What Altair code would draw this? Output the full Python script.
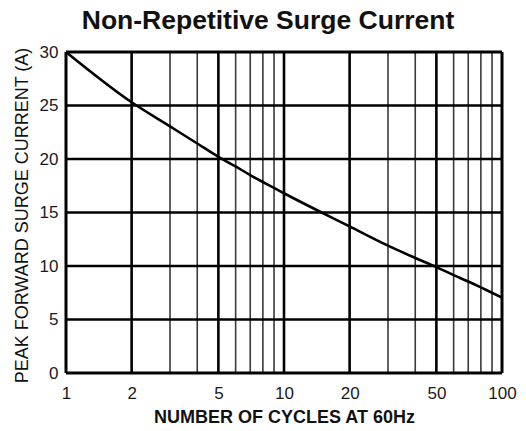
import altair as alt
import pandas as pd

chart_title = "Non-Repetitive Surge Current"
x_title = "NUMBER OF CYCLES AT 60Hz"
y_title = "PEAK FORWARD SURGE CURRENT (A)"

cycles = [1, 2, 3, 4, 5, 6, 7, 8, 9, 10, 20, 30, 40, 50, 60, 70, 80, 90, 100]
current = [30.0, 25.3, 23.05, 21.45, 20.2, 19.3, 18.5, 17.85, 17.3, 16.8,
           13.7, 11.9, 10.75, 9.9, 9.15, 8.55, 8.0, 7.5, 7.05]

x_ticks = [1, 2, 5, 10, 20, 50, 100]
y_ticks = [0, 5, 10, 15, 20, 25, 30]
x_major_grid = [2, 5, 10, 20, 50]
x_minor_grid = [3, 4, 6, 7, 8, 9, 30, 40, 60, 70, 80, 90]
y_grid = [5, 10, 15, 20, 25]
x_frame = [1, 100]
y_frame = [0, 30]

FONT = "Liberation Sans"

xscale = alt.Scale(type="log", domain=[1, 100], nice=False)
yscale = alt.Scale(domain=[0, 30], nice=False, zero=True)

xaxis = alt.Axis(
    values=x_ticks, format="d", grid=False, ticks=False, domain=False,
    labelFont=FONT, labelFontSize=17, labelColor="#1a1a1a", labelPadding=12,
    labelFlush=False, labelOverlap=False,
    title=x_title, titleFont=FONT, titleFontSize=18, titleFontWeight="bold",
    titleColor="#111111", titleX=218, titleY=49, titleBaseline="alphabetic",
    titleAlign="center",
)
yaxis = alt.Axis(
    values=y_ticks, grid=False, ticks=False, domain=False,
    labelFont=FONT, labelFontSize=17, labelColor="#1a1a1a", labelPadding=8,
    title=y_title, titleFont=FONT, titleFontSize=18, titleFontWeight="normal",
    titleColor="#111111", titleX=-44, titleY=163, titleAngle=270,
    titleBaseline="middle", titleAlign="center",
)

curve_df = pd.DataFrame({"cycles": cycles, "current": current})

minor = alt.Chart(pd.DataFrame({"c": x_minor_grid})).mark_rule(
    color="#3a3a3a", strokeWidth=1.6
).encode(x=alt.X("c:Q", scale=xscale, axis=xaxis))

major = alt.Chart(pd.DataFrame({"c": x_major_grid})).mark_rule(
    color="black", strokeWidth=2.6
).encode(x=alt.X("c:Q", scale=xscale, axis=xaxis))

hgrid = alt.Chart(pd.DataFrame({"a": y_grid})).mark_rule(
    color="black", strokeWidth=2.6
).encode(y=alt.Y("a:Q", scale=yscale, axis=yaxis))

vframe = alt.Chart(pd.DataFrame({"c": x_frame})).mark_rule(
    color="black", strokeWidth=3
).encode(x=alt.X("c:Q", scale=xscale, axis=xaxis))

hframe = alt.Chart(pd.DataFrame({"a": y_frame})).mark_rule(
    color="black", strokeWidth=3
).encode(y=alt.Y("a:Q", scale=yscale, axis=yaxis))

line = alt.Chart(curve_df).mark_line(
    color="black", strokeWidth=2.6, interpolate="monotone"
).encode(
    x=alt.X("cycles:Q", scale=xscale, axis=xaxis),
    y=alt.Y("current:Q", scale=yscale, axis=yaxis),
)

chart = alt.layer(minor, major, hgrid, vframe, hframe, line).properties(
    width=436,
    height=321,
    title=alt.TitleParams(
        chart_title, font=FONT, fontSize=26.5, fontWeight="bold",
        color="#111111", anchor="middle", frame="group", dx=-16,
        baseline="alphabetic", offset=24, dy=36,
    ),
    autosize=alt.AutoSizeParams(type="none"),
    padding={"left": 58, "top": 44, "right": 16, "bottom": 56},
).configure_view(
    stroke=None
).configure(background="white")

chart.save("out.html", embed_options={"renderer": "svg", "actions": False})
